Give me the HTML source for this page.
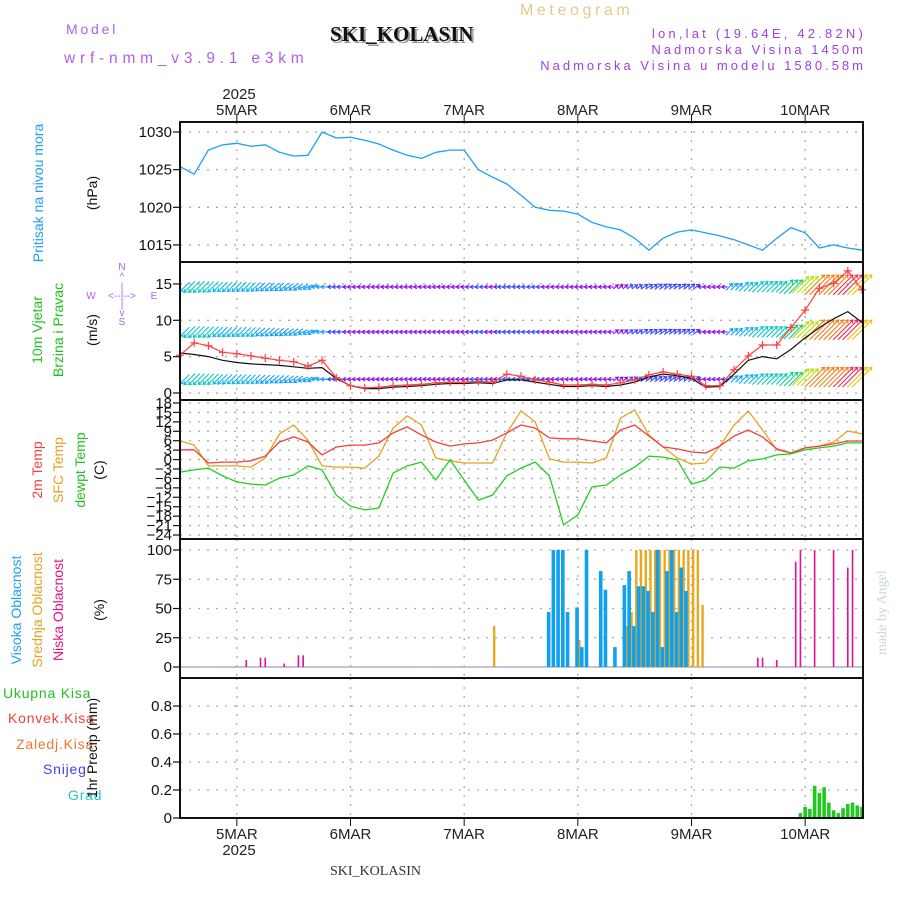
<!DOCTYPE html>
<html><head><meta charset="utf-8"><style>
html,body{margin:0;padding:0;background:#fff;}
svg{display:block;font-family:"Liberation Sans",sans-serif;}
</style></head><body>
<svg id="chart" width="900" height="900" viewBox="0 0 900 900" xmlns="http://www.w3.org/2000/svg">
<rect x="0" y="0" width="900" height="900" fill="#fff"/>
<text x="520" y="15" font-size="16" fill="#e8c88c" letter-spacing="3.6">Meteogram</text>
<text x="66" y="34" font-size="14" fill="#b060e8" letter-spacing="2.8">Model</text>
<text x="64" y="63" font-size="15.5" fill="#b060e8" letter-spacing="4.8">wrf-nmm_v3.9.1 e3km</text>
<text x="332" y="43" font-size="21" font-weight="bold" fill="#999" font-family="Liberation Serif, serif">SKI_KOLASIN</text>
<text x="330" y="41" font-size="21" font-weight="bold" fill="#111" font-family="Liberation Serif, serif">SKI_KOLASIN</text>
<text x="866" y="38" font-size="13" fill="#a040e0" text-anchor="end" letter-spacing="3.2">lon,lat (19.64E, 42.82N)</text>
<text x="866" y="54" font-size="13" fill="#a040e0" text-anchor="end" letter-spacing="3.0">Nadmorska Visina 1450m</text>
<text x="866" y="70" font-size="13" fill="#a040e0" text-anchor="end" letter-spacing="3.0">Nadmorska Visina u modelu 1580.58m</text>
<text x="239" y="99" font-size="15" fill="#222" text-anchor="middle">2025</text>
<text x="239" y="855" font-size="15" fill="#222" text-anchor="middle">2025</text>
<text x="330" y="875" font-size="14" fill="#333" font-family="Liberation Serif, serif">SKI_KOLASIN</text>
<text transform="translate(886,655) rotate(-90)" font-size="14" fill="#c8dcc8" font-family="Liberation Serif, serif">made by Angel</text>

<text transform="translate(43,193) rotate(-90)" font-size="14" fill="#1ea0f0" text-anchor="middle">Pritisak na nivou mora</text>
<text transform="translate(97,193) rotate(-90)" font-size="14" fill="#111" text-anchor="middle">(hPa)</text>
<text transform="translate(42,330) rotate(-90)" font-size="14" fill="#20c020" text-anchor="middle">10m Vjetar</text>
<text transform="translate(63,330) rotate(-90)" font-size="14" fill="#20c020" text-anchor="middle">Brzina i Pravac</text>
<text transform="translate(97,330) rotate(-90)" font-size="14" fill="#111" text-anchor="middle">(m/s)</text>
<g fill="#b060e8" font-size="10" text-anchor="middle">
<text x="122" y="270">N</text><text x="122" y="280">^</text><text x="122" y="290">|</text>
<text x="122" y="299">&lt;--|--&gt;</text><text x="91" y="299">W</text><text x="154" y="299">E</text>
<text x="122" y="308">|</text><text x="122" y="316">v</text><text x="122" y="325">S</text>
</g>
<text transform="translate(42,470) rotate(-90)" font-size="14" fill="#f04040" text-anchor="middle">2m Temp</text>
<text transform="translate(63,470) rotate(-90)" font-size="14" fill="#e8a020" text-anchor="middle">SFC Temp</text>
<text transform="translate(85,470) rotate(-90)" font-size="14" fill="#20c020" text-anchor="middle">dewpt Temp</text>
<text transform="translate(104,470) rotate(-90)" font-size="14" fill="#111" text-anchor="middle">(C)</text>
<text transform="translate(21,610) rotate(-90)" font-size="14" fill="#1ea0f0" text-anchor="middle">Visoka Oblacnost</text>
<text transform="translate(42,610) rotate(-90)" font-size="14" fill="#e8a020" text-anchor="middle">Srednja Oblacnost</text>
<text transform="translate(63,610) rotate(-90)" font-size="14" fill="#e01090" text-anchor="middle">Niska Oblacnost</text>
<text transform="translate(104,610) rotate(-90)" font-size="14" fill="#111" text-anchor="middle">(%)</text>
<text x="3" y="698" font-size="14" fill="#20c020" letter-spacing="0.8">Ukupna Kisa</text>
<text x="8" y="723" font-size="14" fill="#f04040" letter-spacing="0.8">Konvek.Kisa</text>
<text x="16" y="749" font-size="14" fill="#f07830" letter-spacing="0.8">Zaledj.Kisa</text>
<text x="43" y="774" font-size="14" fill="#4040f0" letter-spacing="0.8">Snijeg</text>
<text x="68" y="800" font-size="14" fill="#20c8c8" letter-spacing="0.8">Grad</text>
<text transform="translate(97,748) rotate(-90)" font-size="14" fill="#111" text-anchor="middle">1hr Precip (mm)</text>
<g id="plot"></g>
</svg>
<script>
// ---- data (3-hourly from 4 Mar 12UTC, hour 0..144) ----
const hours3 = [0,3,6,9,12,15,18,21,24,27,30,33,36,39,42,45,48,51,54,57,60,63,66,69,72,75,78,81,84,87,90,93,96,99,102,105,108,111,114,117,120,123,126,129,132,135,138,141,144];
const pressure = [1025.4,1024.4,1027.6,1028.3,1028.5,1028.1,1028.3,1027.3,1026.8,1026.9,1030,1029.2,1029.3,1028.9,1028.4,1027.6,1026.9,1026.5,1027.3,1027.6,1027.6,1025,1024,1023.1,1021.6,1020,1019.6,1019.5,1019.1,1018,1017.4,1017,1015.9,1014.3,1015.9,1016.7,1017,1016.6,1016.2,1015.7,1015,1014.3,1015.9,1017.3,1016.6,1014.6,1015,1014.6,1014.3];
const windGust = [5.2,6.9,6.5,5.6,5.4,5.1,4.8,4.5,4.3,3.7,4.5,2.1,1,0.7,0.8,1,1.1,1.2,1.4,1.5,1.5,1.6,1.5,2.6,2.3,1.8,1.5,1.1,1.1,1.2,1.1,1.4,1.8,2.5,2.9,2.6,2.3,1,1,3.2,5.1,6.6,6.6,9,11.4,14.4,15.1,16.8,14.2];
const windSpeed = [5.5,5.3,5,4.5,4.2,4,3.9,3.8,3.6,3.4,3.5,2,1,0.6,0.6,0.8,0.9,1,1.2,1.3,1.3,1.4,1.3,1.8,1.8,1.5,1.2,0.9,0.9,1,0.9,1.1,1.5,2.2,2.6,2.4,2,0.8,0.9,2.6,4.5,5,4.7,6,7.6,9,10.2,11.2,9.7];
const windDir = [225,225,225,225,225,225,222,220,215,205,180,180,180,180,180,180,180,180,180,180,180,180,180,180,180,180,180,180,180,180,180,40,35,35,35,35,40,180,180,45,45,45,45,45,45,45,45,45,45];
const temp2m = [3.1,3.1,-1.1,-0.8,-0.8,-0.4,1.1,5.6,7.2,5.6,1.5,4,4.6,4.6,5.3,8.5,10.4,7.8,5.6,4.3,5,5.3,6.2,8.5,11,10,6.9,6.6,6.6,5.9,5.3,9.4,11,7.5,4,3.4,2.4,2.1,4.3,7.5,9.4,7.2,3.4,2.1,3.7,4.3,5,5.9,5.9];
const tempSfc = [5.9,4.6,-2,-2,-2,-2.4,0.5,8.2,11,6.2,-2,-2.4,-2.4,-2.7,1.1,10,13.9,11,0.5,-0.4,-1.1,-1.1,-1.1,8.5,15.5,12,0.2,-0.8,-0.8,-1.1,0.5,13.2,15.8,7.8,4,0.5,-1.4,-1.1,4.3,11,15.5,9.4,3.1,2.1,3.7,4.3,5.6,9.1,8.2];
const dewpoint = [-4,-3.3,-2.7,-5.2,-7.1,-7.8,-8.1,-5.9,-4.9,-2,-3.3,-11.3,-14.8,-16,-15.4,-4.3,-2,-0.8,-6.5,-0.1,-6.5,-12.9,-11.3,-5.2,-2.7,-0.8,-5.2,-20.8,-17.6,-8.7,-8.1,-4.9,-2.4,1.1,0.8,-0.1,-7.8,-6.5,-2.4,-2.7,-0.4,0.2,1.5,1.8,3.1,3.7,4.3,5.3,5.3];
// clouds (hourly, nonzero only)
const highHours = [78,79,80,81,82,84,85,86,89,90,92,94,95,96,97,98,99,100,101,102,103,104,105,106,107];
const highVals = [47,100,100,100,47,51,17,100,82,66,17,70,82,35,69,69,65,47,100,17,82,100,47,85,65];
const midHours = [66,84,94,95,96,97,98,99,100,101,102,103,104,105,106,107,108,109,110];
const midVals = [35,23,35,47,100,100,100,100,100,100,100,100,100,100,100,100,100,100,53];
const lowHours = [14,17,18,22,25,26,99,103,122,123,126,130,131,134,138,141,142];
const lowVals = [6,8,8,3,10,10,12,50,8,8,6,90,100,100,100,85,100];
// precipitation (hourly)
const precipHours = [131,132,133,134,135,136,137,138,139,140,141,142,143,144];
const precipVals = [0.035,0.08,0.065,0.23,0.18,0.22,0.11,0.055,0.035,0.07,0.1,0.11,0.09,0.08];
// axis labels
const dayLabels = ["5MAR","6MAR","7MAR","8MAR","9MAR","10MAR"];
const dayHours = [12,36,60,84,108,132];
const pTicks = [1015,1020,1025,1030];
const wTicks = [0,5,10,15];
const tTicks = [18,15,12,9,6,3,0,-3,-6,-9,-12,-15,-18,-21,-24];
const cTicks = [0,25,50,75,100];
const rTicks = [0,0.2,0.4,0.6,0.8];

const NS="http://www.w3.org/2000/svg";
const plot=document.getElementById('plot');
const X0=180,X1=863;
const xh=h=>X0+h*(682/144);
const yP=p=>132+(1030-p)*7.53;
const yW=v=>393-v*7.27;
const yT=t=>403+(18-t)*3.143;
const yC=c=>667-c*1.17;
const yR=r=>818-r*140;
function mk(tag,attrs,parent){const e=document.createElementNS(NS,tag);for(const k in attrs)e.setAttribute(k,attrs[k]);(parent||plot).appendChild(e);return e;}

const panels=[[122,262,'pressure'],[262,400,'wind'],[400,539,'temperature'],[539,678,'cloud'],[678,818,'precip']];
function hgrid(vals,fy,top,bot,name,fmt){
  vals.forEach(v=>{const y=fy(v);
    if(y>top+1&&y<bot-1){const g=mk('line',{x1:X0,x2:X1,y1:y,y2:y,stroke:'#aaa','stroke-width':1.3,'stroke-dasharray':'2,7'});
    
    }
    const tk=mk('line',{x1:X0-7,x2:X0,y1:y,y2:y,stroke:'#111','stroke-width':1.2});
    
    
    const t=mk('text',{x:X0-8,y:y+5,'font-size':15,'text-anchor':'end',fill:'#111'});
    
    
    t.textContent=fmt?fmt(v):v;});
}
hgrid(pTicks,yP,122,262,'pressure-axis');
hgrid(wTicks,yW,262,400,'wind-axis');
hgrid(tTicks,yT,400,539,'temp-axis',v=>v<0?'\u2212'+(-v):v);
hgrid(cTicks,yC,539,678,'cloud-axis');
hgrid(rTicks,yR,678,818,'precip-axis',v=>v===0?'0':v.toFixed(1));
dayHours.forEach((h,i)=>{const x=xh(h);
  panels.forEach(p=>{const l=mk('line',{x1:x,x2:x,y1:p[0],y2:p[1],stroke:'#aaa','stroke-width':1.3,'stroke-dasharray':'2,7'});
    
    });
  const tt=mk('line',{x1:x,x2:x,y1:114,y2:122,stroke:'#111','stroke-width':1});
  
  
  const tb=mk('line',{x1:x,x2:x,y1:818,y2:826,stroke:'#111','stroke-width':1});
  
  
  const a=mk('text',{x:x,y:115,'font-size':15,'text-anchor':'middle',fill:'#222'});
  
  
  a.textContent=dayLabels[i];
  const b=mk('text',{x:x,y:839,'font-size':15,'text-anchor':'middle',fill:'#222'});
  
  
  b.textContent=dayLabels[i];
});
function line(vals,fy,color,name,w){
  const d=vals.map((v,i)=>(i?'L':'M')+xh(hours3[i]).toFixed(1)+','+fy(v).toFixed(1)).join('');
  const p=mk('path',{d:d,fill:'none',stroke:color,'stroke-width':w||1.3,'stroke-linejoin':'round'});
  
  
  return p;
}
line(pressure,yP,'#1ea0f0','pressure-line');
function windColor(v){const c=['#8a10e8','#3848f8','#18a0f8','#10b8e8','#10c8c0','#10d080','#40e020','#b8e010','#f0c010','#f08020','#f03050'];
  return c[Math.max(0,Math.min(c.length-1,Math.floor(v/1.6)))];}
const rows=[14.6,8.4,1.9];
const bg=mk('g',{});


rows.forEach(rv=>{
  hours3.forEach((h,i)=>{
    const sp=windGust[i];const ang=windDir[i]*Math.PI/180;
    const len=Math.min(28,4+sp*1.7);
    const col=windColor(sp);
    [-1,0,1].forEach(k=>{
      const cx=xh(h)+k*4.74;if(cx<X0+2||cx>X1-1)return;
      const cy=yW(rv)-(sp>9?2:0);
      const dx=Math.cos(ang)*len/2,dy=-Math.sin(ang)*len/2;
      const x1=cx-dx,y1=cy-dy,x2=cx+dx,y2=cy+dy;
      const hl=3.5,ha=0.6;
      const b=Math.atan2(y2-y1,x2-x1);
      const d=`M${x1.toFixed(1)},${y1.toFixed(1)}L${x2.toFixed(1)},${y2.toFixed(1)}M${(x2-hl*Math.cos(b-ha)).toFixed(1)},${(y2-hl*Math.sin(b-ha)).toFixed(1)}L${x2.toFixed(1)},${y2.toFixed(1)}L${(x2-hl*Math.cos(b+ha)).toFixed(1)},${(y2-hl*Math.sin(b+ha)).toFixed(1)}`;
      const p=mk('path',{d:d,fill:'none',stroke:col,'stroke-width':1.1},bg);
      
      
    });
  });
});
line(windSpeed,yW,'#111','wind-speed-line',1.2);
line(windGust,yW,'#ff4040','wind-gust-line',1.2);
hours3.forEach((h,i)=>{const x=xh(h),y=yW(windGust[i]);
  const m=mk('path',{d:`M${x-4},${y}L${x+4},${y}M${x},${y-4}L${x},${y+4}`,stroke:'#ff4040','stroke-width':1.2});
  
  });
line(tempSfc,yT,'#e8a020','sfc-temp-line');
line(temp2m,yT,'#f04040','temp-2m-line');
line(dewpoint,yT,'#20d020','dewpoint-line');
const base=mk('line',{x1:X0,x2:X1,y1:yC(0),y2:yC(0),stroke:'#b0b0c8','stroke-width':1.5});


function bars(hrs,vals,fy,color,w,off,name){
  hrs.forEach((h,i)=>{const x=xh(h)+off;const y=fy(vals[i]);const y0=fy(0);
    const r=mk('rect',{x:x-w/2,y:y,width:w,height:Math.max(0,y0-y),fill:color});
    
    });
}
bars(lowHours,lowVals,yC,'#e01090',1.6,0,'low-cloud-bar');
bars(midHours,midVals,yC,'#e8a820',2.4,1.6,'mid-cloud-bar');
bars(highHours,highVals,yC,'#10a0f0',3.6,-0.8,'high-cloud-bar');
bars(precipHours,precipVals,yR,'#20c820',3.6,0,'precip-bar');
panels.forEach(p=>{const r=mk('rect',{x:X0,y:p[0],width:X1-X0,height:p[1]-p[0],fill:'none',stroke:'#111','stroke-width':2});
  
  });
</script>
</body></html>
